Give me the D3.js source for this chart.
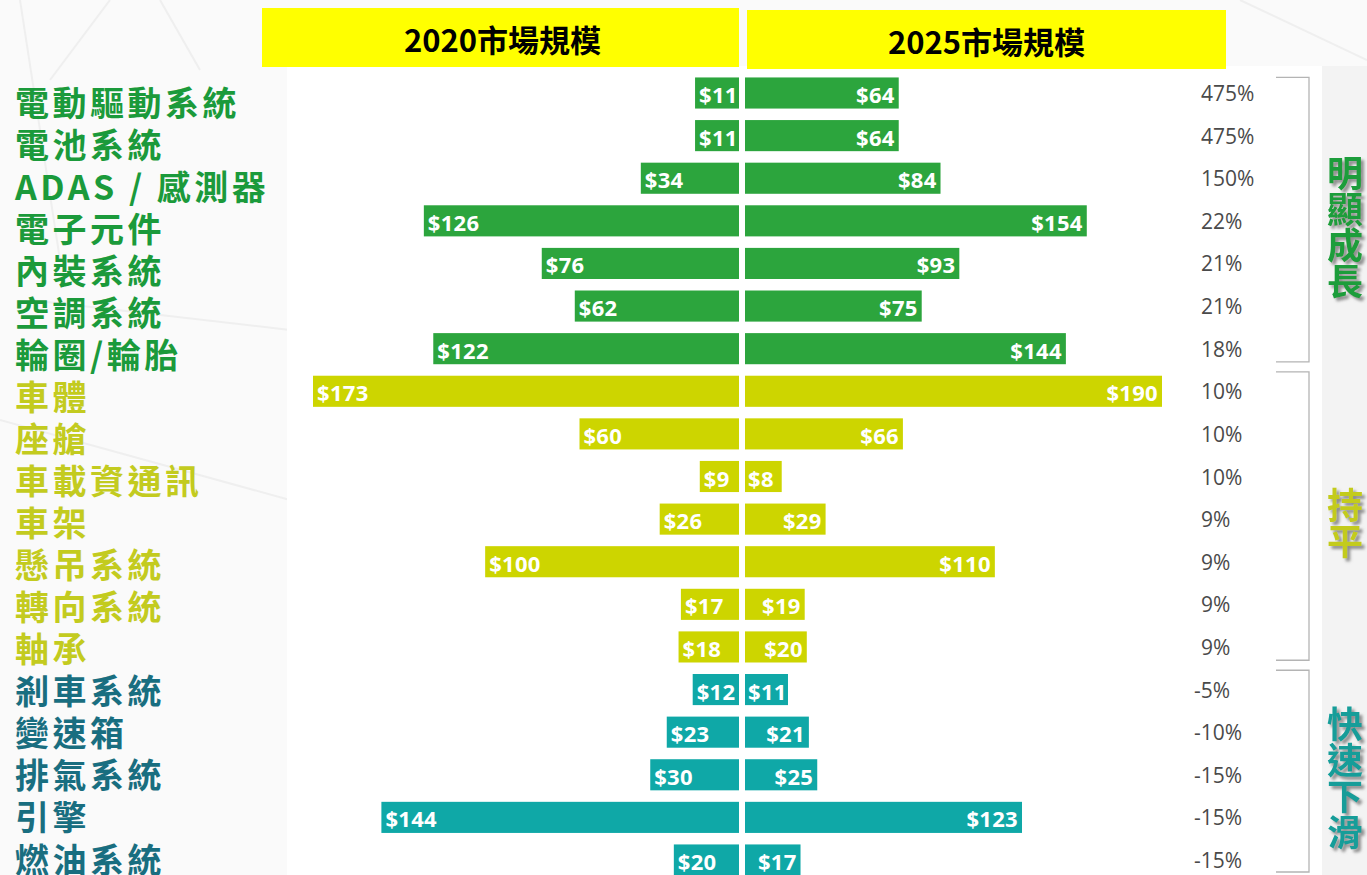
<!DOCTYPE html>
<html>
<head>
<meta charset="utf-8">
<script src="https://cdn.jsdelivr.net/npm/d3@7"></script>
<style>
  html, body { margin: 0; padding: 0; background: #fafafa; }
  svg { display: block; }
</style>
</head>
<body>
<svg id="chart" width="1367" height="875"></svg>
<script>
// Automotive component market size, 2020 vs 2025 (USD bn), with growth rate
const categories = ["電動驅動系統", "電池系統", "ADAS / 感測器", "電子元件", "內裝系統", "空調系統", "輪圈/輪胎",
  "車體", "座艙", "車載資通訊", "車架", "懸吊系統", "轉向系統", "軸承",
  "剎車系統", "變速箱", "排氣系統", "引擎", "燃油系統"];
const values2020 = [11, 11, 34, 126, 76, 62, 122, 173, 60, 9, 26, 100, 17, 18, 12, 23, 30, 144, 20];
const values2025 = [64, 64, 84, 154, 93, 75, 144, 190, 66, 8, 29, 110, 19, 20, 11, 21, 25, 123, 17];
const growthPct = [475, 475, 150, 22, 21, 21, 18, 10, 10, 10, 9, 9, 9, 9, -5, -10, -15, -15, -15];
const groupOfRow = [0, 0, 0, 0, 0, 0, 0, 1, 1, 1, 1, 1, 1, 1, 2, 2, 2, 2, 2];
const groupNames = ["明顯成長", "持平", "快速下滑"];
const headers = ["2020市場規模", "2025市場規模"];

const barColors = ["#2ca53d", "#cdd500", "#0fa8a7"];
const labelColors = ["#1b9a3b", "#c3cb1f", "#196e80"];
const groupTitleColors = ["#1d9d3a", "#c3cb1f", "#129d99"];

const svg = d3.select("#chart");
const W = 1367, H = 875;
const CJK = "'Noto Sans CJK TC', 'Noto Sans CJK SC', sans-serif";
const LATIN = "'Open Sans', 'Noto Sans', sans-serif";

// faint decorative backdrop lines
const deco = svg.append("g").attr("stroke", "#efefef").attr("stroke-width", 2).attr("fill", "none");
[[20, 0, 60, 260], [110, 0, 50, 80], [160, 0, 200, 70], [30, 300, 290, 330], [0, 420, 290, 500],
 [1240, 0, 1367, 60], [1330, 80, 1367, 300], [1330, 600, 1367, 640]].forEach(d => {
  deco.append("line").attr("x1", d[0]).attr("y1", d[1]).attr("x2", d[2]).attr("y2", d[3]);
});

// white plotting panel and grey right strip
svg.append("rect").attr("x", 287).attr("y", 66).attr("width", 1035).attr("height", H - 66).attr("fill", "#ffffff");
svg.append("rect").attr("x", 1322).attr("y", 66).attr("width", W - 1322).attr("height", H - 66).attr("fill", "#f3f3f3");

// scales
const centerLeft = 739, centerRight = 745;
const y = d3.scaleBand().domain(d3.range(categories.length)).range([71.7, 881.3])
  .paddingInner(0.27).paddingOuter(0.135);
const yLabel = d3.scalePoint().domain(d3.range(categories.length)).range([101, 858]);
const wLeft = d3.scaleLinear().domain([0, d3.max(values2020)]).range([18, 426]);
const wRight = d3.scaleLinear().domain([0, d3.max(values2025)]).range([20, 417]);

// header boxes
const headerBoxes = [
  { x: 262, y: 8, w: 477, h: 59 },
  { x: 747, y: 10, w: 479, h: 59 }
];
headerBoxes.forEach((b, i) => {
  svg.append("rect").attr("x", b.x).attr("y", b.y).attr("width", b.w).attr("height", b.h).attr("fill", "#ffff00");
  svg.append("text").attr("x", b.x + b.w / 2 + (i === 0 ? 2 : 0)).attr("y", b.y + b.h / 2 + 1)
    .attr("text-anchor", "middle").attr("dominant-baseline", "central")
    .attr("font-family", CJK).attr("font-weight", 700).attr("font-size", 31)
    .attr("fill", "#000").text(headers[i]);
});

// category labels
svg.append("g").selectAll("text").data(categories).join("text")
  .attr("x", 15)
  .attr("y", (d, i) => yLabel(i))
  .attr("dominant-baseline", "central")
  .attr("font-family", CJK).attr("font-weight", 700).attr("font-size", 34)
  .attr("letter-spacing", 3.5)
  .attr("fill", (d, i) => labelColors[groupOfRow[i]])
  .text(d => d);

// 2020 bars (growing leftwards)
const left = svg.append("g");
left.selectAll("rect").data(values2020).join("rect")
  .attr("x", d => centerLeft - wLeft(d))
  .attr("y", (d, i) => y(i))
  .attr("width", d => wLeft(d))
  .attr("height", y.bandwidth())
  .attr("fill", (d, i) => barColors[groupOfRow[i]]);
left.selectAll("text").data(values2020).join("text")
  .attr("x", d => centerLeft - wLeft(d) + 4)
  .attr("y", (d, i) => y(i) + y.bandwidth() / 2 + 1)
  .attr("dominant-baseline", "central")
  .attr("font-family", LATIN).attr("font-weight", 700).attr("font-size", 22)
  .attr("letter-spacing", 0.3)
  .attr("fill", "#fff")
  .text(d => "$" + d);

// 2025 bars (growing rightwards); narrow bars keep their label at the start
const right = svg.append("g");
right.selectAll("rect").data(values2025).join("rect")
  .attr("x", centerRight)
  .attr("y", (d, i) => y(i))
  .attr("width", d => wRight(d))
  .attr("height", y.bandwidth())
  .attr("fill", (d, i) => barColors[groupOfRow[i]]);
right.selectAll("text").data(values2025).join("text")
  .attr("x", d => wRight(d) < 46 ? centerRight + 3 : centerRight + wRight(d) - 4)
  .attr("y", (d, i) => y(i) + y.bandwidth() / 2 + 1)
  .attr("text-anchor", d => wRight(d) < 46 ? "start" : "end")
  .attr("dominant-baseline", "central")
  .attr("font-family", LATIN).attr("font-weight", 700).attr("font-size", 22)
  .attr("letter-spacing", 0.3)
  .attr("fill", "#fff")
  .text(d => "$" + d);

// growth percentages
svg.append("g").selectAll("text").data(growthPct).join("text")
  .attr("x", d => d < 0 ? 1194 : 1201)
  .attr("y", (d, i) => y(i) + y.bandwidth() / 2)
  .attr("dominant-baseline", "central")
  .attr("font-family", LATIN).attr("font-weight", 400).attr("font-size", 21)
  .attr("fill", "#4a4a4a")
  .text(d => d + "%");

// group brackets and vertical titles with a soft grey drop shadow
const defs = svg.append("defs");
defs.append("filter").attr("id", "shadow").attr("x", "-40%").attr("y", "-20%").attr("width", "180%").attr("height", "140%")
  .append("feDropShadow").attr("dx", 3).attr("dy", 3).attr("stdDeviation", 1.6)
  .attr("flood-color", "#7a7a7a").attr("flood-opacity", 0.85);

const bracketX = 1309;
const rowCenter = i => y(i) + y.bandwidth() / 2;
groupNames.forEach((name, g) => {
  const rows = d3.range(categories.length).filter(i => groupOfRow[i] === g);
  const first = rows[0], last = rows[rows.length - 1];
  const top = g === 0 ? y(first) : (rowCenter(first - 1) + rowCenter(first)) / 2 + 2;
  const bottom = last === categories.length - 1 ? 872 : (rowCenter(last) + rowCenter(last + 1)) / 2 - 8;
  svg.append("path")
    .attr("d", `M1276,${top}H${bracketX}V${bottom}H1276`)
    .attr("stroke", "#b4b4b4").attr("stroke-width", 1.3).attr("fill", "none");

  const chars = Array.from(name);
  const fs = 36;
  const mid = (top + bottom) / 2 + 5;
  const startY = mid - (chars.length - 1) * fs / 2;
  const t = svg.append("text")
    .attr("font-family", CJK).attr("font-weight", 700).attr("font-size", fs)
    .attr("text-anchor", "middle").attr("dominant-baseline", "central")
    .attr("fill", groupTitleColors[g]).attr("filter", "url(#shadow)");
  chars.forEach((c, k) => {
    t.append("tspan").attr("x", 1345).attr("y", startY + k * fs).text(c);
  });
});
</script>
</body>
</html>
